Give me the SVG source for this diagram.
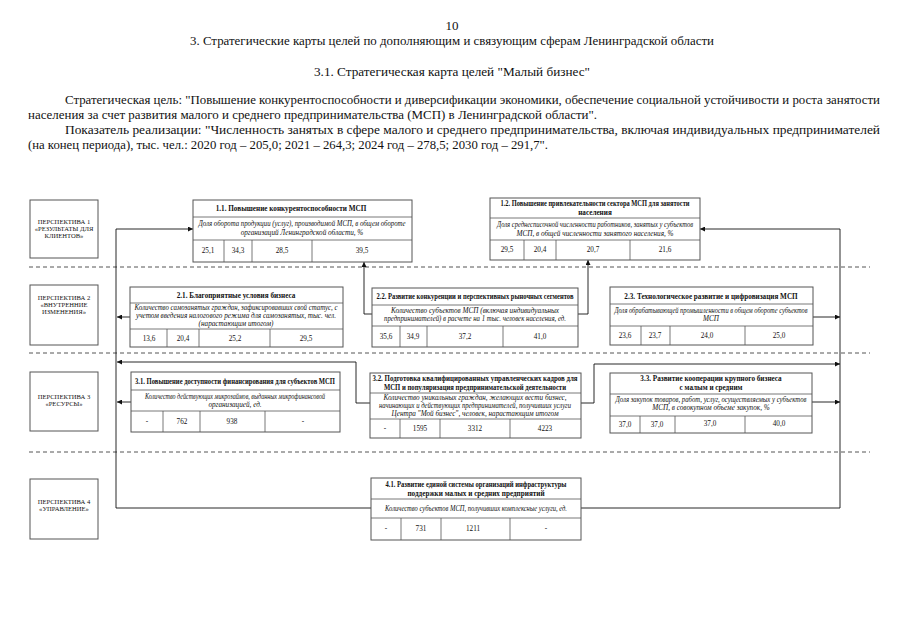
<svg xmlns="http://www.w3.org/2000/svg" width="904" height="640" viewBox="0 0 904 640">
<style>
text{font-family:"Liberation Serif","Times New Roman",serif;fill:#111}
.h{font-size:13px}
.persp{font-size:6.6px;text-anchor:middle}
.t{font-size:7.2px;text-anchor:middle;font-weight:bold}
.i{font-size:7.2px;text-anchor:middle;font-style:italic}
.v{font-size:7.2px;text-anchor:middle}
.box{fill:#fff;stroke:#555;stroke-width:1}
.div{stroke:#555;stroke-width:0.8;fill:none}
.dash{stroke:#555;stroke-width:1;stroke-dasharray:4 3;fill:none}
.con{stroke:#111;stroke-width:0.9;fill:none;marker-end:url(#ah)}
</style>
<defs>
<marker id="ah" viewBox="0 0 8 8" refX="8" refY="4" markerWidth="5" markerHeight="5" orient="auto" markerUnits="userSpaceOnUse">
<path d="M0,0 L8,4 L0,8 z" fill="#111"/>
</marker>
</defs>
<rect width="904" height="640" fill="#fff"/>

<g id="header">
<text class="h" x="452" y="30" text-anchor="middle" font-size="12">10</text>
<text class="h" x="452" y="45" text-anchor="middle" textLength="524" lengthAdjust="spacingAndGlyphs">3. Стратегические карты целей по дополняющим и связующим сферам Ленинградской области</text>
<text class="h" x="452" y="76" text-anchor="middle" textLength="276" lengthAdjust="spacingAndGlyphs">3.1. Стратегическая карта целей "Малый бизнес"</text>
<text class="h" x="65" y="104" textLength="815" lengthAdjust="spacingAndGlyphs">Стратегическая цель: "Повышение конкурентоспособности и диверсификации экономики, обеспечение социальной устойчивости и роста занятости</text>
<text class="h" x="28" y="119" textLength="569" lengthAdjust="spacingAndGlyphs">населения за счет развития малого и среднего предпринимательства (МСП) в Ленинградской области".</text>
<text class="h" x="65" y="134" textLength="815" lengthAdjust="spacingAndGlyphs">Показатель реализации: "Численность занятых в сфере малого и среднего предпринимательства, включая индивидуальных предпринимателей</text>
<text class="h" x="28" y="149" textLength="520" lengthAdjust="spacingAndGlyphs">(на конец периода), тыс. чел.: 2020 год – 205,0; 2021 – 264,3; 2024 год – 278,5; 2030 год – 291,7".</text>
</g>

<g id="dividers">
<path class="dash" d="M29,267 H870"/>
<path class="dash" d="M29,353 H870"/>
<path class="dash" d="M29,452 H870"/>
</g>

<g id="connectors">
<path class="con" d="M371,508 H116 V229 H193"/>
<path class="con" d="M130,317 H117"/>
<path class="con" d="M131,402 H117"/>
<path class="con" d="M370,403 H356 V362 H117"/>
<path class="con" d="M372,314 H364 V262"/>
<path class="con" d="M578,314 H588 V260"/>
<path class="con" d="M581,508 H840 V229 H700"/>
<path class="con" d="M813,317 H840"/>
<path class="con" d="M812,402 H840"/>
<path class="con" d="M581,403 H594 V364 H840"/>
</g>

<g id="p1">
<rect class="box" x="30" y="200" width="68" height="58"/>
<text class="persp" x="64" y="224">ПЕРСПЕКТИВА 1</text>
<text class="persp" x="64" y="231">«РЕЗУЛЬТАТЫ ДЛЯ</text>
<text class="persp" x="64" y="238">КЛИЕНТОВ»</text>
</g>
<g id="p2">
<rect class="box" x="30" y="285" width="68" height="60"/>
<text class="persp" x="64" y="300">ПЕРСПЕКТИВА 2</text>
<text class="persp" x="64" y="307">«ВНУТРЕННИЕ</text>
<text class="persp" x="64" y="314">ИЗМЕНЕНИЯ»</text>
</g>
<g id="p3">
<rect class="box" x="30" y="372" width="68" height="59"/>
<text class="persp" x="64" y="399">ПЕРСПЕКТИВА 3</text>
<text class="persp" x="64" y="406">«РЕСУРСЫ»</text>
</g>
<g id="p4">
<rect class="box" x="30" y="479" width="68" height="60"/>
<text class="persp" x="64" y="504">ПЕРСПЕКТИВА 4</text>
<text class="persp" x="64" y="511">«УПРАВЛЕНИЕ»</text>
</g>

<g id="g11">
<rect class="box" x="193" y="200" width="219" height="62"/>
<path class="div" d="M193,217 H412 M193,240 H412 M224,240 V262 M252,240 V262 M312,240 V262"/>
<text class="t" x="291" y="211">1.1. Повышение конкурентоспособности МСП</text>
<text class="i" x="302" y="226" textLength="207" lengthAdjust="spacingAndGlyphs">Доля оборота продукции (услуг), производимой МСП, в общем обороте</text>
<text class="i" x="302" y="235">организаций Ленинградской области, %</text>
<text class="v" x="208" y="253">25,1</text>
<text class="v" x="238" y="253">34,3</text>
<text class="v" x="282" y="253">28,5</text>
<text class="v" x="362" y="253">39,5</text>
</g>

<g id="g12">
<rect class="box" x="490" y="198" width="210" height="62"/>
<path class="div" d="M490,218 H700 M490,240 H700 M524,240 V260 M556,240 V260 M630,240 V260"/>
<text class="t" x="595" y="206" textLength="189" lengthAdjust="spacingAndGlyphs">1.2. Повышение привлекательности сектора МСП для занятости</text>
<text class="t" x="595" y="215">населения</text>
<text class="i" x="595" y="227" textLength="196" lengthAdjust="spacingAndGlyphs">Доля среднесписочной численности работников, занятых у субъектов</text>
<text class="i" x="595" y="236">МСП, в общей численности занятого населения, %</text>
<text class="v" x="507" y="252">29,5</text>
<text class="v" x="540" y="252">20,4</text>
<text class="v" x="593" y="252">20,7</text>
<text class="v" x="665" y="252">21,6</text>
</g>

<g id="g21">
<rect class="box" x="130" y="287" width="213" height="60"/>
<path class="div" d="M130,303 H343 M130,329 H343 M167,329 V347 M199,329 V347 M270,329 V347"/>
<text class="t" x="236" y="298">2.1. Благоприятные условия бизнеса</text>
<text class="i" x="236" y="310" textLength="203" lengthAdjust="spacingAndGlyphs">Количество самозанятых граждан, зафиксировавших свой статус, с</text>
<text class="i" x="236" y="318">учетом введения налогового режима для самозанятых, тыс. чел.</text>
<text class="i" x="236" y="326">(нарастающим итогом)</text>
<text class="v" x="149" y="341">13,6</text>
<text class="v" x="183" y="341">20,4</text>
<text class="v" x="235" y="341">25,2</text>
<text class="v" x="306" y="341">29,5</text>
</g>

<g id="g22">
<rect class="box" x="372" y="288" width="206" height="59"/>
<path class="div" d="M372,305 H578 M372,326 H578 M400,326 V347 M427,326 V347 M503,326 V347"/>
<text class="t" x="475" y="299" textLength="197" lengthAdjust="spacingAndGlyphs">2.2. Развитие конкуренции и перспективных рыночных сегментов</text>
<text class="i" x="475" y="313">Количество субъектов МСП (включая индивидуальных</text>
<text class="i" x="475" y="321" textLength="182" lengthAdjust="spacingAndGlyphs">предпринимателей) в расчете на 1 тыс. человек населения, ед.</text>
<text class="v" x="386" y="339">35,6</text>
<text class="v" x="413" y="339">34,9</text>
<text class="v" x="465" y="339">37,2</text>
<text class="v" x="540" y="339">41,0</text>
</g>

<g id="g23">
<rect class="box" x="610" y="287" width="203" height="58"/>
<path class="div" d="M610,304 H813 M610,326 H813 M641,326 V345 M670,326 V345 M745,326 V345"/>
<text class="t" x="711" y="299">2.3. Технологическое развитие и цифровизация МСП</text>
<text class="i" x="711" y="313" textLength="193" lengthAdjust="spacingAndGlyphs">Доля обрабатывающей промышленности в общем обороте субъектов</text>
<text class="i" x="711" y="321">МСП</text>
<text class="v" x="625" y="338">23,6</text>
<text class="v" x="655" y="338">23,7</text>
<text class="v" x="707" y="338">24,0</text>
<text class="v" x="779" y="338">25,0</text>
</g>

<g id="g31">
<rect class="box" x="131" y="372" width="209" height="60"/>
<path class="div" d="M131,390 H340 M131,411 H340 M163,411 V432 M200,411 V432 M265,411 V432"/>
<text class="t" x="235" y="384" textLength="200" lengthAdjust="spacingAndGlyphs">3.1. Повышение доступности финансирования для субъектов МСП</text>
<text class="i" x="235" y="399" textLength="180" lengthAdjust="spacingAndGlyphs">Количество действующих микрозаймов, выданных микрофинансовой</text>
<text class="i" x="235" y="407">организацией, ед.</text>
<text class="v" x="147" y="424">-</text>
<text class="v" x="182" y="424">762</text>
<text class="v" x="232" y="424">938</text>
<text class="v" x="303" y="424">-</text>
</g>

<g id="g32">
<rect class="box" x="370" y="373" width="211" height="65"/>
<path class="div" d="M370,393 H581 M370,419 H581 M400,419 V438 M440,419 V438 M510,419 V438"/>
<text class="t" x="475" y="381" textLength="205" lengthAdjust="spacingAndGlyphs">3.2. Подготовка квалифицированных управленческих кадров для</text>
<text class="t" x="475" y="390" textLength="182" lengthAdjust="spacingAndGlyphs">МСП и популяризация предпринимательской деятельности</text>
<text class="i" x="475" y="400">Количество уникальных  граждан, желающих вести бизнес,</text>
<text class="i" x="475" y="408" textLength="192" lengthAdjust="spacingAndGlyphs">начинающих и действующих предпринимателей, получивших услуги</text>
<text class="i" x="475" y="416">Центра "Мой бизнес", человек, нарастающим итогом</text>
<text class="v" x="385" y="431">-</text>
<text class="v" x="420" y="431">1595</text>
<text class="v" x="475" y="431">3312</text>
<text class="v" x="545" y="431">4223</text>
</g>

<g id="g33">
<rect class="box" x="610" y="373" width="202" height="60"/>
<path class="div" d="M610,394 H812 M610,416 H812 M640,416 V433 M675,416 V433 M745,416 V433"/>
<text class="t" x="711" y="381">3.3. Развитие кооперации крупного бизнеса</text>
<text class="t" x="711" y="390">с малым и средним</text>
<text class="i" x="711" y="402" textLength="191" lengthAdjust="spacingAndGlyphs">Доля закупок товаров, работ, услуг, осуществляемых у субъектов</text>
<text class="i" x="711" y="410">МСП, в совокупном объеме закупок, %</text>
<text class="v" x="625" y="427">37,0</text>
<text class="v" x="657" y="427">37,0</text>
<text class="v" x="710" y="426">37,0</text>
<text class="v" x="779" y="426">40,0</text>
</g>

<g id="g41">
<rect class="box" x="371" y="478" width="210" height="62"/>
<path class="div" d="M371,499 H581 M371,518 H581 M401,518 V540 M441,518 V540 M510,518 V540"/>
<text class="t" x="476" y="487" textLength="181" lengthAdjust="spacingAndGlyphs">4.1. Развитие единой системы организаций инфраструктуры</text>
<text class="t" x="476" y="496">поддержки малых и средних предприятий</text>
<text class="i" x="476" y="511" textLength="182" lengthAdjust="spacingAndGlyphs">Количество субъектов МСП, получивших комплексные услуги, ед.</text>
<text class="v" x="386" y="531">-</text>
<text class="v" x="421" y="531">731</text>
<text class="v" x="473" y="531">1211</text>
<text class="v" x="546" y="531">-</text>
</g>
</svg>
